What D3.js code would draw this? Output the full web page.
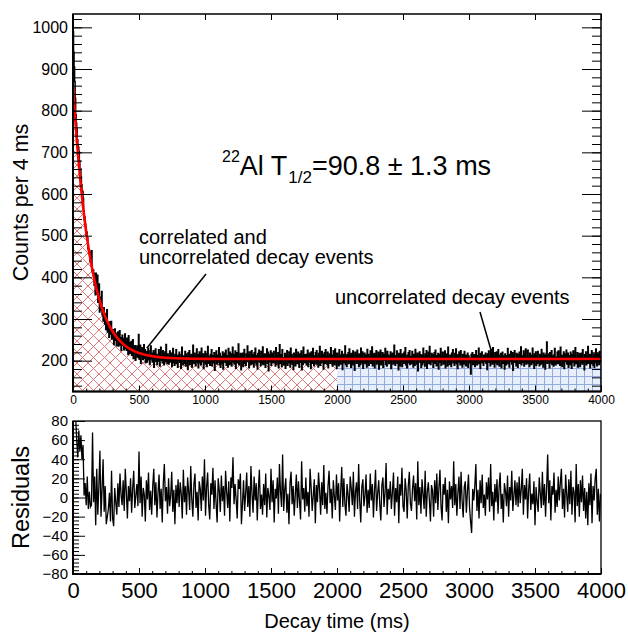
<!DOCTYPE html>
<html>
<head>
<meta charset="utf-8">
<script src="https://cdn.jsdelivr.net/npm/d3@7"></script>
<style>
  body { margin: 0; background: #fff; }
  svg { display: block; font-family: "Liberation Sans", Arial, Helvetica, sans-serif; }
</style>
</head>
<body>
<div id="chart"></div>
<script>
// counts per 4 ms bin, 0..4000 ms (1000 bins)
const binWidth = 4;
const counts = [
  990,940,905,870,830,790,770,756,730,718,712,702,680,659,660,641,622,607,606,590,
  560,538,545,528,510,501,508,495,470,466,466,455,440,437,462,464,415,412,418,410,
  381,391,358,410,378,360,405,340,363,384,317,341,352,322,366,310,325,295,327,305,
  288,313,275,292,322,269,279,291,256,293,264,274,294,252,270,256,274,239,257,276,
  249,262,236,266,248,269,235,251,272,238,255,225,248,261,237,253,226,245,264,229,
  246,225,254,235,215,260,237,218,243,222,246,213,228,250,205,233,220,236,201,227,
  214,235,209,227,263,204,219,237,194,226,212,231,203,220,238,206,226,195,216,222,
  197,218,230,202,213,191,223,235,204,218,197,213,224,184,218,205,228,198,215,191,
  212,199,226,208,187,219,232,201,210,195,224,214,190,206,221,198,239,209,193,216,
  212,192,207,223,197,202,218,186,210,229,195,205,189,215,200,226,193,209,184,213,
  201,220,196,208,182,214,232,199,190,211,204,194,222,187,216,203,213,179,219,198,
  224,191,209,200,215,185,206,237,196,193,218,210,188,202,228,197,214,183,207,221,
  195,211,190,230,205,198,216,181,213,203,222,192,208,186,217,234,194,210,200,189,
  215,199,226,188,204,212,195,219,177,209,201,223,192,213,197,206,231,190,217,184,
  210,193,207,221,180,214,202,218,196,225,189,205,212,185,229,198,191,220,201,216,
  187,208,232,197,215,192,203,223,182,211,219,195,206,240,190,209,199,217,178,213,
  202,218,186,210,227,194,204,189,216,198,235,201,213,183,221,196,208,191,224,193,
  214,200,185,219,195,230,207,190,212,180,217,203,225,197,209,188,222,193,206,233,
  191,211,199,216,184,213,201,228,194,220,176,208,215,198,223,189,204,218,195,210,
  222,196,206,187,231,192,212,200,219,183,209,238,193,203,214,186,226,197,207,190,
  198,217,182,213,203,224,189,210,195,221,201,185,230,199,215,192,208,179,218,205,
  213,188,227,200,211,193,220,202,184,216,207,196,223,178,210,191,232,199,214,195,
  200,215,190,206,225,186,212,197,218,203,181,221,209,194,229,201,188,211,198,219,
  192,224,198,208,185,217,202,234,189,210,195,222,200,215,180,207,219,193,226,196,
  209,191,220,183,212,199,216,194,231,201,213,187,205,224,196,190,228,198,217,182,
  218,197,207,188,226,203,192,213,200,222,179,211,215,195,206,235,191,210,186,214,
  201,219,193,228,198,212,184,217,204,190,223,196,208,177,220,202,214,194,225,199,
  211,186,216,200,191,230,195,209,221,182,207,198,218,193,213,203,185,227,197,215,
  189,210,202,223,194,205,233,188,212,199,217,183,214,201,224,192,208,196,220,180,
  216,195,225,190,208,198,219,184,206,215,201,229,191,211,187,222,203,213,193,207,
  196,221,181,214,202,218,192,210,237,197,189,212,200,223,194,205,178,217,209,188,
  226,199,212,186,216,203,194,220,198,231,190,207,183,213,201,219,195,224,191,210,
  193,208,222,197,185,215,206,189,227,200,212,192,218,176,210,202,221,196,214,184,
  213,190,205,230,195,209,187,216,201,224,182,211,198,220,193,234,199,191,208,217,
  198,214,184,207,219,194,225,200,188,212,203,217,180,215,206,196,229,189,210,201,
  220,192,209,195,223,183,211,202,216,187,232,198,207,191,213,199,186,218,203,226,
  195,207,189,217,200,228,193,210,181,214,197,221,202,190,224,194,205,185,215,208,
  192,222,198,213,188,208,201,218,184,211,195,206,203,168,215,199,219,191,210,196,
  214,186,207,224,197,190,212,202,230,193,209,182,217,200,221,195,205,189,213,198,
  203,218,194,210,179,216,201,223,196,206,188,227,199,214,192,231,197,208,185,219,
  210,195,221,191,205,226,198,187,213,202,217,183,208,220,194,211,200,180,216,207,
  190,212,201,229,193,209,185,215,198,222,203,192,219,177,213,200,224,196,206,188,
  217,199,184,214,202,220,194,208,233,190,211,196,203,223,187,215,198,228,192,205,
  197,225,193,207,186,218,200,213,191,204,230,195,210,182,216,201,221,189,212,194,
  222,198,206,188,215,203,192,227,196,209,185,218,201,213,180,210,217,245,194,211,
  200,216,183,219,195,207,224,191,211,202,187,214,229,197,190,208,199,220,193,223,
  194,209,189,232,201,213,186,210,196,221,181,206,216,198,225,192,203,218,184,212,
  207,191,220,199,182,215,197,223,205,188,212,231,193,208,195,219,185,210,202,217,
  186,213,200,218,192,226,196,207,178,214,203,221,190,209,197,234,194,201,215,183,
  211,193,224,198,206,189,216,184,213,201,228,195,188,217,199,212,191,222,196,208
];

// residuals (data - fit), one point per 8 ms
const residBin = 8;
const residuals = [
  160,120,85,60,42,70,48,65,40,55,2,15,-8,22,-12,6,-10,-8,68,-5,
  22,-29,30,-18,12,49,-20,8,40,-15,12,-28,-20,-12,5,-25,28,-22,-30,10,
  -5,-18,15,-10,25,3,-8,18,-14,30,6,-22,12,-4,20,-16,9,28,-11,2,
  14,-9,48,-6,22,-20,10,3,-25,18,-2,26,-13,7,-18,12,30,-8,16,-21,
  5,24,-12,9,-26,15,35,-4,11,-17,20,-9,2,27,-15,8,-28,13,-6,19,
  -10,16,4,-22,29,-5,12,-18,21,7,-13,33,-2,-20,14,25,-11,6,-24,17,
  9,-14,22,-3,40,-19,11,26,-8,-23,15,3,31,-12,18,-6,-26,20,8,-15,
  23,-4,12,-19,28,6,-11,17,-25,21,10,42,-7,14,-2,-22,19,9,25,-28,
  -6,18,-14,5,26,-10,12,-20,33,4,-16,22,-3,15,-24,8,29,-12,3,-18,
  14,-8,25,-21,10,2,-13,30,-5,18,-26,9,-1,21,-17,35,6,-10,45,-14,
  8,20,-16,4,-28,15,27,-7,12,-19,3,24,-11,17,-4,-23,38,-2,10,-15,
  21,-9,6,-20,30,11,-14,2,19,-27,13,-5,26,8,-18,16,-8,34,-12,5,
  -17,12,28,-6,9,-22,18,1,-13,24,-3,15,-25,7,32,-10,20,-7,-19,14,
  3,-15,22,10,-8,27,-20,6,16,-12,35,-4,-26,11,19,-9,2,24,-16,8,
  -11,25,-3,14,-21,7,29,-14,4,18,-7,-24,13,21,-10,5,36,-18,9,-2,
  17,-12,6,26,-19,10,-5,22,-27,14,2,31,-9,-15,20,8,-22,12,27,-6,
  -14,9,23,-4,15,-23,38,-8,11,-17,19,4,-12,28,-20,6,16,-3,-25,13,
  7,-20,18,-6,25,-13,10,29,-9,-24,14,3,21,-15,8,-27,17,-2,12,-11,
  38,-8,14,-19,5,22,-12,27,-4,-21,11,17,-16,6,24,-10,-25,-37,9,-3,
  12,35,-14,8,-22,18,-6,24,-11,3,-19,16,-2,21,-15,35,-9,6,-24,14,
  -5,19,-17,10,26,-12,4,-26,15,7,-9,23,-20,11,-3,28,-14,2,18,-8,
  16,-10,22,-6,9,30,-18,13,-2,20,-22,8,25,-13,4,-7,17,-29,11,-4,
  -15,21,5,-11,27,-8,14,-20,10,45,-6,18,-24,12,3,26,-16,8,-10,22,
  -3,16,30,-12,9,-21,24,4,-15,19,-7,28,-18,11,6,-26,35,-9,14,-20,
  18,-5,23,-14,10,-22,6,-29,15,-8,25,-27,12,-3,20,30,-18,9,-25,4
];

// fit result: exponential decay + flat background
const halfLife = 90.8;
const fitAmplitude = 655;
const fitBackground = 204;
const splitTime = 2000;   // correlated | uncorrelated region

const xTicks = [0, 500, 1000, 1500, 2000, 2500, 3000, 3500, 4000];
const countTicks = [200, 300, 400, 500, 600, 700, 800, 900, 1000];
const residTicks = [-80, -60, -40, -20, 0, 20, 40, 60, 80];

function fit(t) {
  return fitBackground + fitAmplitude * Math.exp(-Math.LN2 * t / halfLife);
}

const svg = d3.select("#chart").append("svg")
  .attr("width", 628)
  .attr("height", 638);

const defs = svg.append("defs");
defs.append("pattern")
  .attr("id", "hatchRed")
  .attr("patternUnits", "userSpaceOnUse")
  .attr("width", 11).attr("height", 11)
  .append("path")
  .attr("d", "M0,0L11,11M11,0L0,11")
  .attr("stroke", "#e07a7a")
  .attr("stroke-width", 1);
const blue = defs.append("pattern")
  .attr("id", "hatchBlue")
  .attr("patternUnits", "userSpaceOnUse")
  .attr("width", 8).attr("height", 8);
blue.append("rect").attr("width", 8).attr("height", 8).attr("fill", "#e8eefa");
blue.append("path")
  .attr("d", "M0.5,0V8M0,0.5H8")
  .attr("stroke", "#92abdf")
  .attr("stroke-width", 1);

defs.append("clipPath").attr("id", "clipTop")
  .append("rect").attr("x", 73).attr("y", 14).attr("width", 528).attr("height", 377.5);
defs.append("clipPath").attr("id", "clipBot")
  .append("rect").attr("x", 73).attr("y", 421).attr("width", 528).attr("height", 153);

const x = d3.scaleLinear().domain([0, 4000]).range([73, 601]);
const yTop = d3.scaleLinear().domain([126, 1032]).range([391.5, 14]);
const yBot = d3.scaleLinear().domain([-80, 80]).range([574, 421]);

// ---- top panel
const topPanel = svg.append("g").attr("clip-path", "url(#clipTop)");

const area = d3.area()
  .x(t => x(t))
  .y0(yTop(126))
  .y1(t => yTop(fit(t)));

topPanel.append("path")
  .attr("d", area(d3.range(0, splitTime + 1, 2)))
  .attr("fill", "url(#hatchRed)");
topPanel.append("path")
  .attr("d", area(d3.range(splitTime, 4001, 2)))
  .attr("fill", "url(#hatchBlue)");

const histPts = counts.map((c, i) => [i * binWidth, c]);
histPts.push([counts.length * binWidth, counts[counts.length - 1]]);
topPanel.append("path")
  .attr("d", d3.line().x(d => x(d[0])).y(d => yTop(d[1])).curve(d3.curveStepAfter)(histPts))
  .attr("fill", "none")
  .attr("stroke", "#000")
  .attr("stroke-width", 1.5);

topPanel.append("path")
  .attr("d", d3.line().x(t => x(t)).y(t => yTop(fit(t)))(d3.range(0, 4001, 2)))
  .attr("fill", "none")
  .attr("stroke", "#ff0000")
  .attr("stroke-width", 2.6);

// ---- bottom panel
svg.append("g").attr("clip-path", "url(#clipBot)")
  .append("path")
  .attr("d", d3.line().x((d, j) => x((j + 0.5) * residBin)).y(d => yBot(d))(residuals))
  .attr("fill", "none")
  .attr("stroke", "#000")
  .attr("stroke-width", 1.3);

// ---- axes
function tidy(g, fontSize) {
  g.select(".domain").remove();
  g.selectAll(".tick line").attr("stroke", "#000").attr("stroke-width", 1);
  g.selectAll("text").attr("font-size", fontSize).attr("fill", "#000")
    .attr("font-family", "Liberation Sans, Arial, Helvetica, sans-serif");
}

// top panel x
svg.append("g").attr("transform", "translate(0,391.5)")
  .call(d3.axisBottom(x).tickValues(xTicks).tickSize(-6).tickPadding(4).tickFormat(d3.format("d")))
  .call(g => tidy(g, 12));
svg.append("g").attr("transform", "translate(0,391.5)")
  .call(d3.axisBottom(x).tickValues(d3.range(0, 4001, 100)).tickSize(-3).tickFormat(""))
  .call(g => tidy(g, 12));
svg.append("g").attr("transform", "translate(0,14)")
  .call(d3.axisTop(x).tickValues(xTicks).tickSize(-6).tickFormat(""))
  .call(g => tidy(g, 12));

// top panel y
svg.append("g").attr("transform", "translate(73,0)")
  .call(d3.axisLeft(yTop).tickValues(countTicks).tickSize(-19).tickPadding(5).tickFormat(d3.format("d")))
  .call(g => tidy(g, 16));
svg.append("g").attr("transform", "translate(73,0)")
  .call(d3.axisLeft(yTop).tickValues(d3.range(140, 1032, 20)).tickSize(-9).tickFormat(""))
  .call(g => tidy(g, 16));
svg.append("g").attr("transform", "translate(601,0)")
  .call(d3.axisRight(yTop).tickValues(countTicks).tickSize(-19).tickFormat(""))
  .call(g => tidy(g, 16));
svg.append("g").attr("transform", "translate(601,0)")
  .call(d3.axisRight(yTop).tickValues(d3.range(140, 1032, 20)).tickSize(-9).tickFormat(""))
  .call(g => tidy(g, 16));

// bottom panel x
svg.append("g").attr("transform", "translate(0,574)")
  .call(d3.axisBottom(x).tickValues(xTicks).tickSize(-6).tickPadding(8).tickFormat(d3.format("d")))
  .call(g => tidy(g, 22));
svg.append("g").attr("transform", "translate(0,574)")
  .call(d3.axisBottom(x).tickValues(d3.range(0, 4001, 100)).tickSize(-3).tickFormat(""))
  .call(g => tidy(g, 22));

// bottom panel y
svg.append("g").attr("transform", "translate(73,0)")
  .call(d3.axisLeft(yBot).tickValues(residTicks).tickSize(-12).tickPadding(5))
  .call(g => tidy(g, 15));
svg.append("g").attr("transform", "translate(73,0)")
  .call(d3.axisLeft(yBot).tickValues(d3.range(-80, 81, 4)).tickSize(-6).tickFormat(""))
  .call(g => tidy(g, 15));

// frames
svg.append("rect").attr("x", 73).attr("y", 14).attr("width", 528).attr("height", 377.5)
  .attr("fill", "none").attr("stroke", "#000").attr("stroke-width", 1.5);
svg.append("path").attr("d", "M73,14V391.5H601").attr("fill", "none").attr("stroke", "#000").attr("stroke-width", 2);
svg.append("rect").attr("x", 73).attr("y", 421).attr("width", 528).attr("height", 153)
  .attr("fill", "none").attr("stroke", "#000").attr("stroke-width", 1.3);
svg.append("path").attr("d", "M73,421V574H601").attr("fill", "none").attr("stroke", "#000").attr("stroke-width", 2);

// ---- titles
svg.append("text")
  .attr("transform", "translate(28,202.5) rotate(-90)")
  .attr("text-anchor", "middle")
  .attr("font-size", 21.5)
  .text("Counts per 4 ms");
svg.append("text")
  .attr("transform", "translate(28.5,497.5) rotate(-90)")
  .attr("text-anchor", "middle")
  .attr("font-size", 23.5)
  .text("Residuals");
svg.append("text")
  .attr("x", 337).attr("y", 628)
  .attr("text-anchor", "middle")
  .attr("font-size", 20)
  .text("Decay time (ms)");

const title = svg.append("text").attr("x", 222).attr("y", 175).attr("font-size", 27);
title.append("tspan").attr("font-size", 16).attr("dy", -13).text("22");
title.append("tspan").attr("dy", 13).text("Al T");
title.append("tspan").attr("font-size", 17).attr("dy", 8).attr("dx", 1).text("1/2");
title.append("tspan").attr("dy", -8).text("=90.8 \u00b1 1.3 ms");

// ---- annotations
const note = svg.append("text").attr("font-size", 20);
note.append("tspan").attr("x", 139).attr("y", 243.5).text("correlated and");
note.append("tspan").attr("x", 139).attr("y", 263.5).text("uncorrelated decay events");
svg.append("text").attr("x", 335).attr("y", 304).attr("font-size", 20).text("uncorrelated decay events");

svg.append("path").attr("d", "M206,274L146.7,348.3").attr("stroke", "#000").attr("stroke-width", 1.5);
svg.append("path").attr("d", "M480,312L493,357").attr("stroke", "#000").attr("stroke-width", 1.5);
</script>
</body>
</html>
